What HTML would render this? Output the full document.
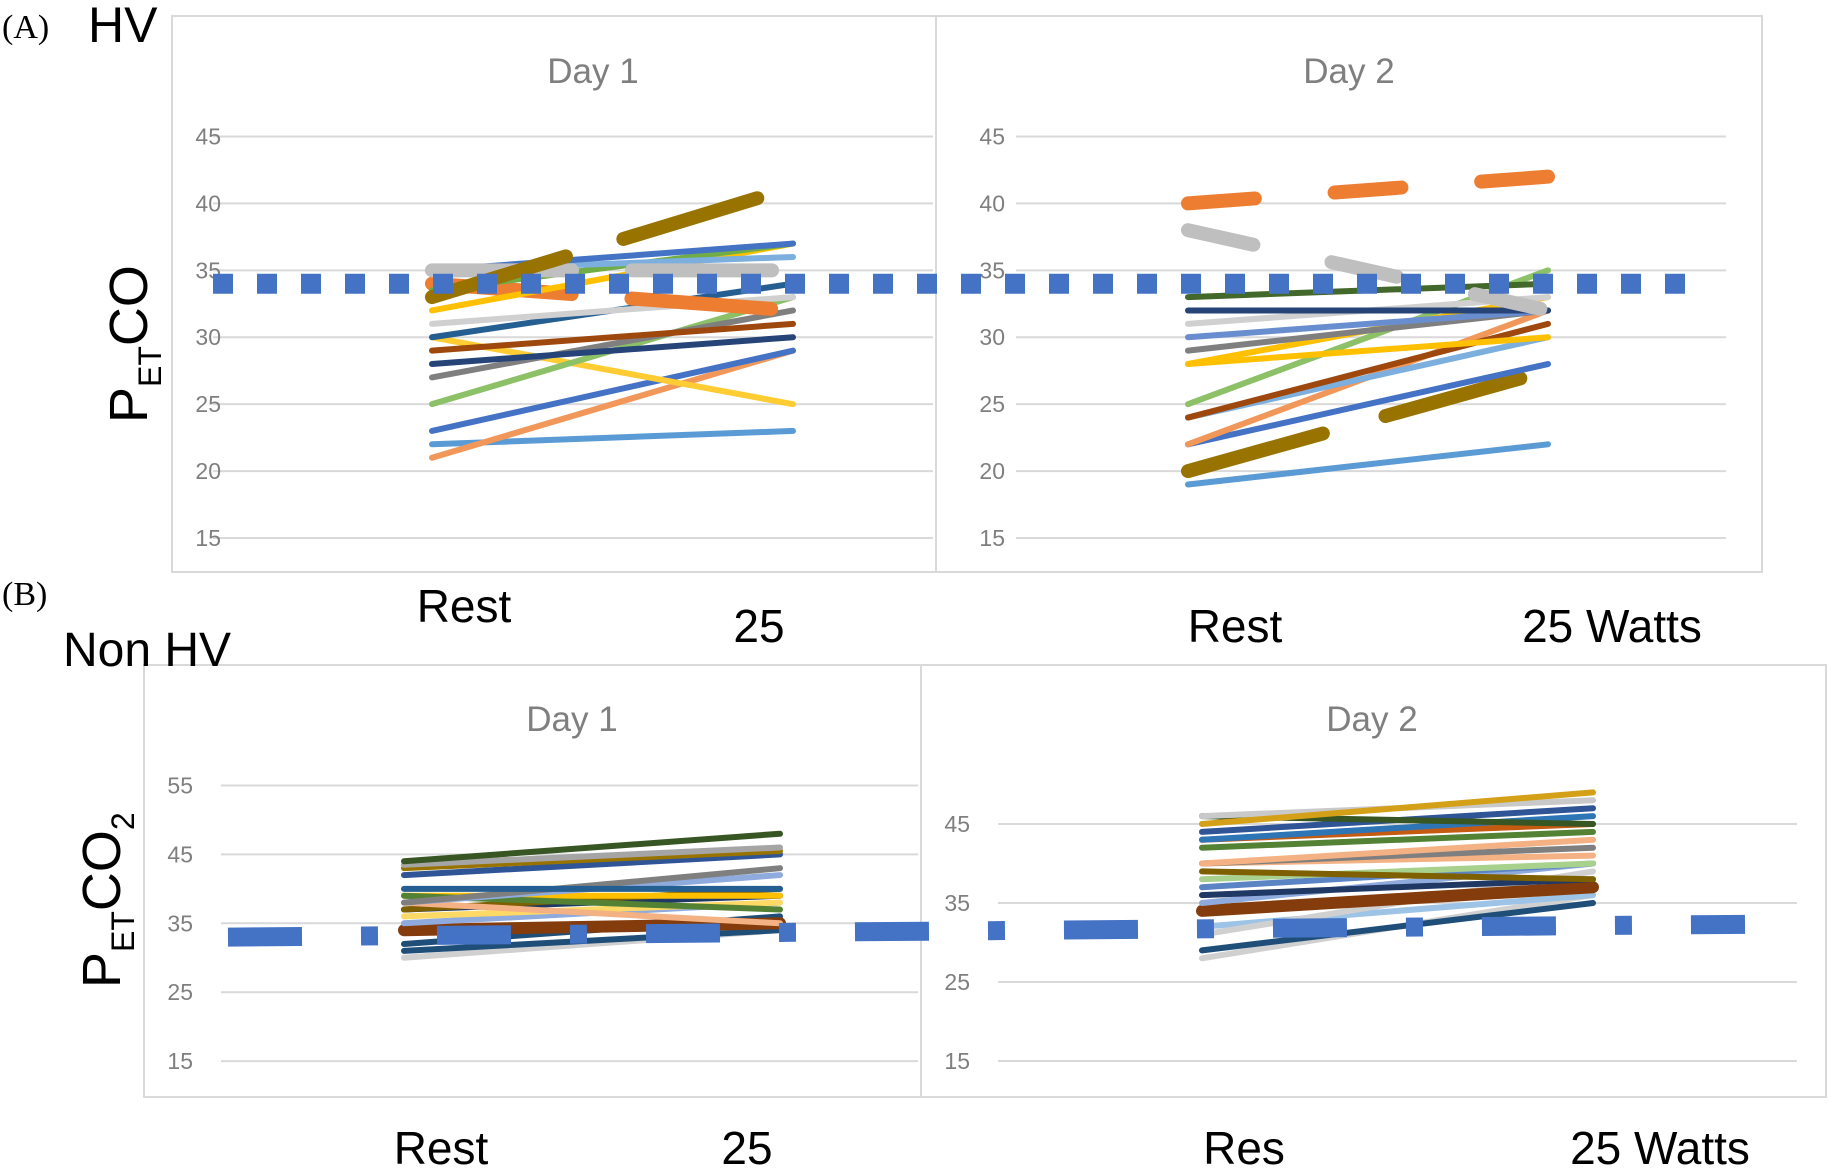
<!DOCTYPE html>
<html><head><meta charset="utf-8"><style>
html,body{margin:0;padding:0;background:#fff;}
svg{display:block;}
text{font-family:"Liberation Sans",sans-serif;}
</style></head><body>
<svg id="fig" width="1830" height="1170" viewBox="0 0 1830 1170">
  <g>
    <rect x="172" y="16" width="1590" height="556" fill="none" stroke="#d9d9d9" stroke-width="2"/>
    <line x1="936" y1="16" x2="936" y2="572" stroke="#d9d9d9" stroke-width="2"/>
  </g>
  <g>
    <rect x="144" y="665" width="1682" height="432" fill="none" stroke="#d9d9d9" stroke-width="2"/>
    <line x1="921" y1="665" x2="921" y2="1097" stroke="#d9d9d9" stroke-width="2"/>
  </g>
  <text x="2" y="38" font-size="34" style="font-family:'Liberation Serif',serif">(A)</text>
  <text x="88" y="42" font-size="50">HV</text>
  <text x="2" y="605" font-size="34" style="font-family:'Liberation Serif',serif">(B)</text>
  <text x="63" y="666" font-size="48">Non HV</text>
  <text transform="translate(147,423) rotate(-90)" font-size="54">P<tspan font-size="32" dy="14">ET</tspan><tspan dy="-14">CO</tspan></text>
  <text transform="translate(120,988) rotate(-90)" font-size="54">P<tspan font-size="32" dy="14">ET</tspan><tspan dy="-14">CO</tspan><tspan font-size="32" dy="14">2</tspan></text>
  <text x="593" y="83" font-size="35" fill="#7f7f7f" text-anchor="middle">Day  1</text>
  <text x="1349" y="83" font-size="35" fill="#7f7f7f" text-anchor="middle">Day 2</text>
  <text x="572" y="731" font-size="35" fill="#7f7f7f" text-anchor="middle">Day 1</text>
  <text x="1372" y="731" font-size="35" fill="#7f7f7f" text-anchor="middle">Day 2</text>
  <g font-size="46" fill="#000" text-anchor="middle">
    <text x="464" y="622">Rest</text>
    <text x="759" y="642">25</text>
    <text x="1235" y="642">Rest</text>
    <text x="1612" y="642">25 Watts</text>
    <text x="441" y="1164">Rest</text>
    <text x="747" y="1164">25</text>
    <text x="1244" y="1164">Res</text>
    <text x="1660" y="1164">25 Watts</text>
  </g>
  <g id="plots"></g>
</svg>
<script>
// Tick labels
var ticksA = [15,20,25,30,35,40,45];
var ticksBL = [15,25,35,45,55];
var ticksBR = [15,25,35,45];
// Panel A Day 1 series: [rest, 25W]
var aD1Rest = [33,35,35,35,33.5,32,34,31,30,29,28,27,25,30,23,21,22];
var aD1W25  = [41.2,35,37,36,37,37,32,33,34,31,30,32,33,25,29,29,23];
var aD1Col  = ['#997300','#bfbfbf','#4472c4','#7cafdd','#70ad47','#ffc000','#ed7d31','#d0d0d0','#255e91','#9e480e','#264478','#7f7f7f','#8cc168','#ffcd33','#4472c4','#f1975a','#5b9bd5'];
var aD1Wid  = [14,14,6,6,6,6,14,6,6,6,6,6,6,6,6,6,6];
var aD1Dash = ['140 60','140 60','','','','','140 60','','','','','','','','','',''];
// Panel A Day 2
var aD2Rest = [40,38,33,32,31,30,29,28,28,25,24,24,22,22,20,19];
var aD2W25  = [42,32,34,32,33,32,32,33,30,35,31,30,32,28,27.5,22];
var aD2Col  = ['#ed7d31','#bfbfbf','#43682b','#264478','#d0d0d0','#698ed0','#7f7f7f','#ffc000','#ffc000','#8cc168','#9e480e','#7cafdd','#f1975a','#4472c4','#997300','#5b9bd5'];
var aD2Wid  = [14,14,6,6,6,6,6,6,6,6,6,6,6,6,14,6];
var aD2Dash = ['67 80','67 80','','','','','','','','','','','','','140 65',''];
// Panel B Day 1
var bD1Rest = [44,43.5,43,42,40,38,38,39,39,38,37,37,36,35,34,32,31,30];
var bD1W25  = [48,46,45.5,45,40,43,42,37,39,35,40,39,38,38,35,36,34,34];
var bD1Col  = ['#375623','#a5a5a5','#997300','#2f5597','#255e91','#7f7f7f','#8faadc','#548235','#ffc000','#f4b183','#7f6000','#203864','#ffd966','#8faadc','#843c0c','#1f4e79','#1f4e79','#d0d0d0'];
var bD1Wid  = [6,6,6,6,6,6,6,6,6,6,6,6,6,6,12,6,6,6];
// Panel B Day 2
var bD2Rest = [45,46,46,44,43,43,42,40,40,40,39,38,37,36,35,34,31,32,29,28];
var bD2W25  = [49,48,45,47,46,45,44,43,42,41,38,40,40,38,40,37,39,36,35,36];
var bD2Col  = ['#d4a017','#c9c9c9','#375623','#2f5597','#2e75b6','#c55a11','#548235','#f4b183','#7f7f7f','#f4b183','#7f6000','#a9d18e','#5b84c4','#203864','#8faadc','#843c0c','#d0d0d0','#9dc3e6','#1f4e79','#d0d0d0'];
var bD2Wid  = [6,6,6,6,6,6,6,6,6,6,6,6,6,6,6,12,6,6,6,6];
// reference lines
var aRef = [34];
var bRefLeft = [33];
var bRefRight = [32.3];

var NS='http://www.w3.org/2000/svg';
var g=document.getElementById('plots');
function yA(v){return 136.5+(45-v)*13.383;}
function yBL(v){return 785.5+(55-v)*6.89;}
function yBR(v){return 824+(45-v)*7.9;}
function mk(tag,attrs){var e=document.createElementNS(NS,tag);for(var k in attrs)e.setAttribute(k,attrs[k]);g.appendChild(e);return e;}
function grid(ticks,yf,x1,x2,lx,prefix){
  ticks.forEach(function(t){
    var l=mk('line',{x1:x1,x2:x2,y1:yf(t),y2:yf(t),stroke:'#d9d9d9','stroke-width':2});
    
    
    var tx=mk('text',{x:lx,y:yf(t)+8,'font-size':23,fill:'#7f7f7f','text-anchor':'end'});
    tx.textContent=t;
    
    
  });
}
grid(ticksA,yA,213,933,221,'a-day1');
grid(ticksA,yA,1016,1726,1005,'a-day2');
grid(ticksBL,yBL,221,918,193,'b-day1');
grid(ticksBR,yBR,998,1797,970,'b-day2');

function series(rest,w25,col,wid,dash,yf,x0,x1,prefix){
  for(var i=rest.length-1;i>=0;i--){
    var a={x1:x0,x2:x1,y1:yf(rest[i]),y2:yf(w25[i]),stroke:col[i],'stroke-width':wid[i],'stroke-linecap':'round'};
    if(dash&&dash[i]){a['stroke-dasharray']=dash[i];}
    var l=mk('line',a);
    
    
  }
}
series(aD1Rest,aD1W25,aD1Col,aD1Wid,aD1Dash,yA,432,793,'a-day1');
series(aD2Rest,aD2W25,aD2Col,aD2Wid,aD2Dash,yA,1188,1548,'a-day2');
series(bD1Rest,bD1W25,bD1Col,bD1Wid,null,yBL,404,780,'b-day1');
series(bD2Rest,bD2W25,bD2Col,bD2Wid,null,yBR,1202,1593,'b-day2');

var r1=mk('line',{x1:213,x2:1700,y1:yA(aRef[0]),y2:yA(aRef[0]),stroke:'#4472c4','stroke-width':20,'stroke-dasharray':'20 24'});


var r2=mk('path',{d:'M228 '+yBL(bRefLeft[0])+' L1745 '+yBR(bRefRight[0]),fill:'none',stroke:'#4472c4','stroke-width':19,'stroke-dasharray':'74 59 17 59'});


</script>
</body></html>
